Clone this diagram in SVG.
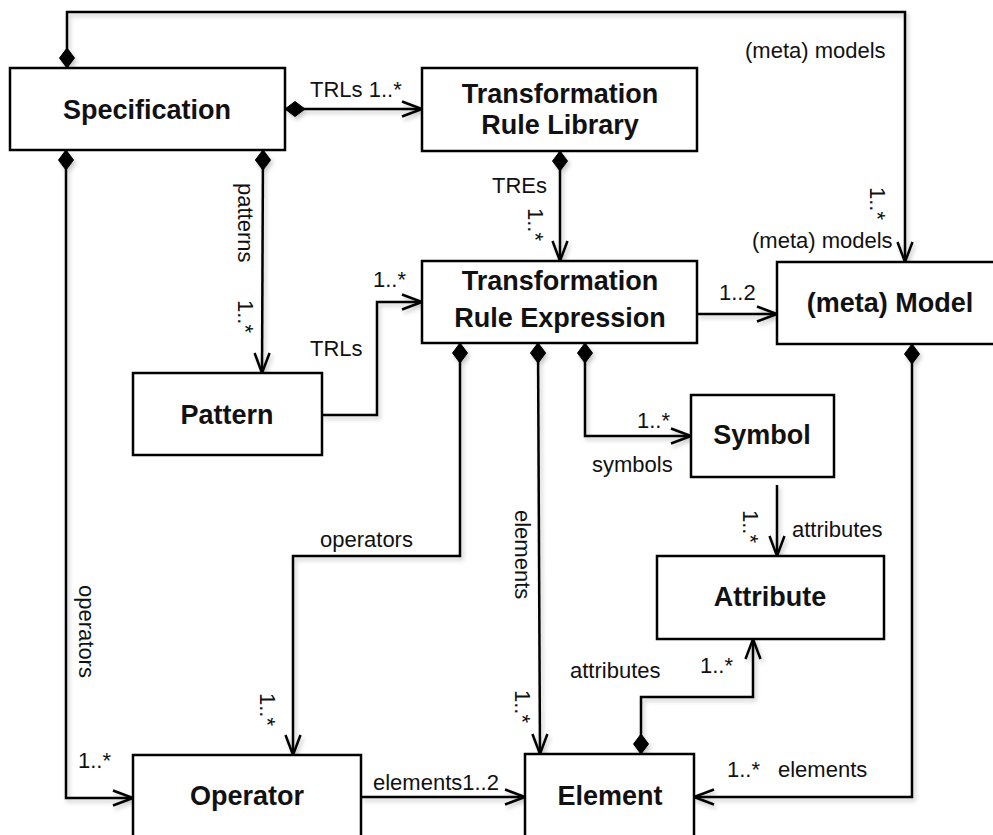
<svg xmlns="http://www.w3.org/2000/svg" width="993" height="835" viewBox="0 0 993 835">
<style>
  .box { fill: #fff; stroke: #000; stroke-width: 2.5; }
  .title { font-family: "Liberation Sans", Arial, sans-serif; font-weight: bold; font-size: 27px; fill: #111; text-anchor: middle; }
  .lbl { font-family: "Liberation Sans", Arial, sans-serif; font-size: 22px; fill: #111; }
  .conn { fill: none; stroke: #000; stroke-width: 2.5; stroke-linejoin: miter; }
  .comp { marker-start: url(#diamond); }
  .nav { marker-end: url(#arrow); }
</style>
<defs>
  <marker id="diamond" markerUnits="userSpaceOnUse" markerWidth="22" markerHeight="17" refX="0" refY="7.5" orient="auto" style="overflow:visible">
    <path d="M0,7.5 L10,0 L20,7.5 L10,15 Z" fill="#000" stroke="#000" stroke-width="1"/>
  </marker>
  <marker id="arrow" markerUnits="userSpaceOnUse" markerWidth="22" markerHeight="17" refX="20" refY="7.5" orient="auto" style="overflow:visible">
    <path d="M0,0 L20,7.5 L0,15" fill="none" stroke="#000" stroke-width="2.5"/>
  </marker>
  <filter id="shadow" x="-10%" y="-10%" width="120%" height="120%">
    <feDropShadow dx="2" dy="3" stdDeviation="2" flood-color="#000" flood-opacity="0.22"/>
  </filter>
</defs>

<rect width="993" height="835" fill="#fff"/>

<g id="connectors" filter="url(#shadow)">
  <path class="conn comp nav" d="M67,68 V12 H905 V262"/>
  <path class="conn comp nav" d="M285,109 H422"/>
  <path class="conn comp nav" d="M263,150 L262,373"/>
  <path class="conn comp nav" d="M66,150 V798 H133"/>
  <path class="conn comp nav" d="M560,151 V261"/>
  <path class="conn nav" d="M322,415 H377 V302 H422"/>
  <path class="conn nav" d="M697,314 H777"/>
  <path class="conn comp nav" d="M460,343 V556 H293 V755"/>
  <path class="conn comp nav" d="M538,343 L540,754"/>
  <path class="conn comp nav" d="M585,343 V436 H691"/>
  <path class="conn nav" d="M777,485 V556"/>
  <path class="conn comp nav" d="M641,754 V697 H753 V639"/>
  <path class="conn comp nav" d="M912,344 V797 H694"/>
  <path class="conn nav" d="M361,797 H525"/>
</g>

<g id="labels">
  <text class="lbl" x="310" y="97">TRLs 1..*</text>
  <text class="lbl" x="745" y="58">(meta) models</text>
  <text class="lbl" transform="translate(870,187) rotate(90)">1..*</text>
  <text class="lbl" x="752" y="248">(meta) models</text>
  <text class="lbl" x="492" y="193">TREs</text>
  <text class="lbl" transform="translate(528,208) rotate(90)">1..*</text>
  <text class="lbl" transform="translate(238,183) rotate(90)">patterns</text>
  <text class="lbl" transform="translate(238,300) rotate(90)">1..*</text>
  <text class="lbl" x="373" y="287">1..*</text>
  <text class="lbl" x="310" y="356">TRLs</text>
  <text class="lbl" transform="translate(79,585) rotate(90)">operators</text>
  <text class="lbl" x="78" y="768">1..*</text>
  <text class="lbl" x="320" y="547">operators</text>
  <text class="lbl" transform="translate(260,693) rotate(90)">1..*</text>
  <text class="lbl" transform="translate(515,510) rotate(90)">elements</text>
  <text class="lbl" transform="translate(515,690) rotate(90)">1..*</text>
  <text class="lbl" x="637" y="428">1..*</text>
  <text class="lbl" x="592" y="472">symbols</text>
  <text class="lbl" x="719" y="300">1..2</text>
  <text class="lbl" transform="translate(743,510) rotate(90)">1..*</text>
  <text class="lbl" x="792" y="537">attributes</text>
  <text class="lbl" x="700" y="673">1..*</text>
  <text class="lbl" x="570" y="678">attributes</text>
  <text class="lbl" x="727" y="777">1..*</text>
  <text class="lbl" x="778" y="777">elements</text>
  <text class="lbl" x="373" y="790">elements1..2</text>
</g>

<g id="specification">
  <rect class="box" x="10" y="68" width="275" height="82"/>
  <text class="title" x="147" y="119">Specification</text>
</g>
<g id="transformation-rule-library">
  <rect class="box" x="422" y="68" width="275" height="83"/>
  <text class="title" x="560" y="103">Transformation</text>
  <text class="title" x="560" y="134">Rule Library</text>
</g>
<g id="transformation-rule-expression">
  <rect class="box" x="422" y="261" width="275" height="82"/>
  <text class="title" x="560" y="290">Transformation</text>
  <text class="title" x="560" y="327">Rule Expression</text>
</g>
<g id="meta-model">
  <rect class="box" x="777" y="262" width="226" height="82"/>
  <text class="title" x="890" y="312">(meta) Model</text>
</g>
<g id="pattern">
  <rect class="box" x="133" y="373" width="189" height="82"/>
  <text class="title" x="227" y="424">Pattern</text>
</g>
<g id="symbol">
  <rect class="box" x="691" y="395" width="143" height="82"/>
  <text class="title" x="762" y="444">Symbol</text>
</g>
<g id="attribute">
  <rect class="box" x="657" y="556" width="227" height="83"/>
  <text class="title" x="770" y="606">Attribute</text>
</g>
<g id="operator">
  <rect class="box" x="133" y="755" width="228" height="100"/>
  <text class="title" x="247" y="805">Operator</text>
</g>
<g id="element">
  <rect class="box" x="525" y="754" width="169" height="100"/>
  <text class="title" x="610" y="805">Element</text>
</g>
</svg>
